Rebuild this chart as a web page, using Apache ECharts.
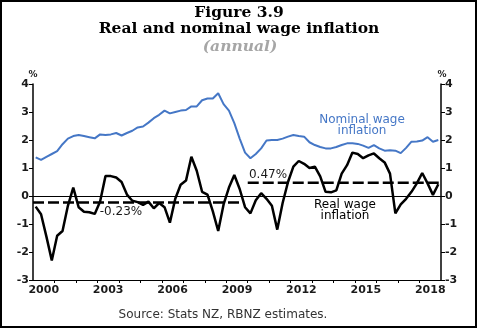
<!DOCTYPE html>
<html><head><meta charset="utf-8">
<script src="https://cdn.jsdelivr.net/npm/echarts@6/dist/echarts.min.js"></script>
<style>html,body{margin:0;padding:0;background:#fff}#c{width:479px;height:330px}</style>
</head><body><div id="c"></div>
<script>
// Quarterly data, 2000Q1 .. 2018Q4
const startYear = 2000;
const endYear = 2018;
const nominalWage = [
  1.38,1.29,1.40,1.50, 1.60,1.85,2.05,2.14, 2.18,2.14,2.10,2.06, 2.20,2.18,2.20,2.25,
  2.16,2.25,2.33,2.45, 2.48,2.62,2.78,2.90, 3.05,2.95,3.00,3.05, 3.07,3.20,3.20,3.42,
  3.48,3.48,3.67,3.28, 3.05,2.60,2.05,1.55, 1.35,1.50,1.70,1.98, 2.00,2.00,2.05,2.12,
  2.18,2.14,2.12,1.92, 1.82,1.75,1.70,1.70, 1.75,1.82,1.88,1.88, 1.86,1.80,1.72,1.82,
  1.70,1.62,1.63,1.62, 1.53,1.72,1.94,1.95, 1.98,2.10,1.94,2.00
];
const realWage = [
  -0.38,-0.65,-1.45,-2.30, -1.42,-1.25,-0.35,0.30, -0.40,-0.56,-0.58,-0.64, -0.20,0.71,0.71,0.66,
  0.50,0.05,-0.17,-0.22, -0.32,-0.20,-0.44,-0.25, -0.40,-0.95,-0.10,0.40, 0.55,1.40,0.90,0.15,
  0.05,-0.55,-1.25,-0.30, 0.30,0.75,0.25,-0.40, -0.62,-0.15,0.10,-0.10, -0.35,-1.20,-0.25,0.50,
  1.05,1.25,1.15,1.00, 1.05,0.70,0.15,0.13, 0.20,0.80,1.10,1.55, 1.50,1.35,1.45,1.52,
  1.35,1.20,0.80,-0.62, -0.30,-0.10,0.15,0.45, 0.82,0.45,0.04,0.42
];
// Period averages of real wage inflation
const avgPeriods = [[2000, 2009.7], [2010, 2019]];
const avgValues = [-0.23, 0.47];
const avgLabels = ['-0.23%', '0.47%'];
const xLabelYears = [2000, 2003, 2006, 2009, 2012, 2015, 2018];
const yMin = -3, yMax = 4;

const xs = [];
for (let y = startYear; y <= endYear; y++) for (let q = 1; q <= 4; q++) xs.push(y + (q - 0.5) / 4);
const yearBounds = [];
for (let y = startYear + 1; y <= endYear; y++) yearBounds.push(y);

const chart = echarts.init(document.getElementById('c'), null, {renderer: 'canvas'});
const tickFont = {fontFamily: 'DejaVu Sans', fontSize: 11, fontWeight: 'bold', color: '#1a1a1a'};
const yAxisCommon = {
  type: 'value', min: yMin, max: yMax, interval: 1,
  splitLine: {show: false},
  axisLine: {show: true, lineStyle: {color: '#000', width: 1.5}},
  axisTick: {show: true, inside: false, length: 4, lineStyle: {color: '#000'}},
  axisLabel: Object.assign({margin: 4}, tickFont)
};
const option = {
  animation: false,
  backgroundColor: '#fff',
  grid: {left: 33, right: 38, top: 84, bottom: 50},
  xAxis: {
    type: 'value', min: startYear, max: endYear + 1,
    splitLine: {show: false},
    axisLine: {onZero: false, lineStyle: {color: '#000', width: 1.2}},
    axisTick: {show: true, customValues: yearBounds, length: 3, lineStyle: {color: '#000'}},
    axisLabel: Object.assign({customValues: xLabelYears.map(v => v + 0.5), formatter: v => String(Math.floor(v)), margin: 5}, tickFont)
  },
  yAxis: [
    Object.assign({position: 'left'}, yAxisCommon),
    Object.assign({position: 'right'}, yAxisCommon)
  ],
  series: [
    {
      type: 'line', name: 'Nominal', data: xs.map((x, i) => [x, nominalWage[i]]),
      showSymbol: false, lineStyle: {color: '#4577C6', width: 2}, z: 3
    },
    {
      type: 'line', name: 'Real', data: xs.map((x, i) => [x, realWage[i]]),
      showSymbol: false, lineStyle: {color: '#000', width: 2.5}, z: 4,
      markLine: {silent: true, symbol: 'none', label: {show: false},
        lineStyle: {color: '#000', width: 1, type: 'solid'}, data: [{yAxis: 0}]}
    },
    ...avgValues.map((v, k) => ({
      type: 'line', data: [[avgPeriods[k][0], v], [avgPeriods[k][1], v]],
      showSymbol: false, lineStyle: {color: '#000', width: 2.5, type: [11, 4]}, z: 2
    }))
  ],
  graphic: [
    {type: 'rect', shape: {x: 1, y: 1, width: 475, height: 326}, style: {fill: 'none', stroke: '#000', lineWidth: 2}},
    {type: 'text', x: 239, y: 13, style: {text: 'Figure 3.9', font: 'bold 15.5px "DejaVu Serif"', fill: '#000', align: 'center', verticalAlign: 'middle'}},
    {type: 'text', x: 239, y: 29, style: {text: 'Real and nominal wage inflation', font: 'bold 15.5px "DejaVu Serif"', fill: '#000', align: 'center', verticalAlign: 'middle'}},
    {type: 'text', x: 240, y: 47, style: {text: '(annual)', font: 'italic bold 15.5px "DejaVu Serif"', fill: '#a6a6a6', align: 'center', verticalAlign: 'middle'}},
    {type: 'text', x: 33, y: 75, style: {text: '%', font: 'bold 9px "DejaVu Sans"', fill: '#1a1a1a', align: 'center', verticalAlign: 'middle'}},
    {type: 'text', x: 442, y: 75, style: {text: '%', font: 'bold 9px "DejaVu Sans"', fill: '#1a1a1a', align: 'center', verticalAlign: 'middle'}},
    {type: 'text', x: 362, y: 120, style: {text: 'Nominal wage', font: '12px "DejaVu Sans"', fill: '#4577C6', align: 'center', verticalAlign: 'middle'}},
    {type: 'text', x: 362, y: 131, style: {text: 'inflation', font: '12px "DejaVu Sans"', fill: '#4577C6', align: 'center', verticalAlign: 'middle'}},
    {type: 'text', x: 345, y: 205, style: {text: 'Real wage', font: '12px "DejaVu Sans"', fill: '#000', align: 'center', verticalAlign: 'middle'}},
    {type: 'text', x: 345, y: 216, style: {text: 'inflation', font: '12px "DejaVu Sans"', fill: '#000', align: 'center', verticalAlign: 'middle'}},
    {type: 'text', x: 268, y: 175, style: {text: avgLabels[1], font: '12px "DejaVu Sans"', fill: '#1a1a1a', align: 'center', verticalAlign: 'middle'}},
    {type: 'text', x: 121, y: 212, style: {text: avgLabels[0], font: '12px "DejaVu Sans"', fill: '#1a1a1a', align: 'center', verticalAlign: 'middle'}},
    {type: 'text', x: 223, y: 315, style: {text: 'Source: Stats NZ, RBNZ estimates.', font: '12px "DejaVu Sans"', fill: '#333', align: 'center', verticalAlign: 'middle'}}
  ]
};
chart.setOption(option);
</script></body></html>
